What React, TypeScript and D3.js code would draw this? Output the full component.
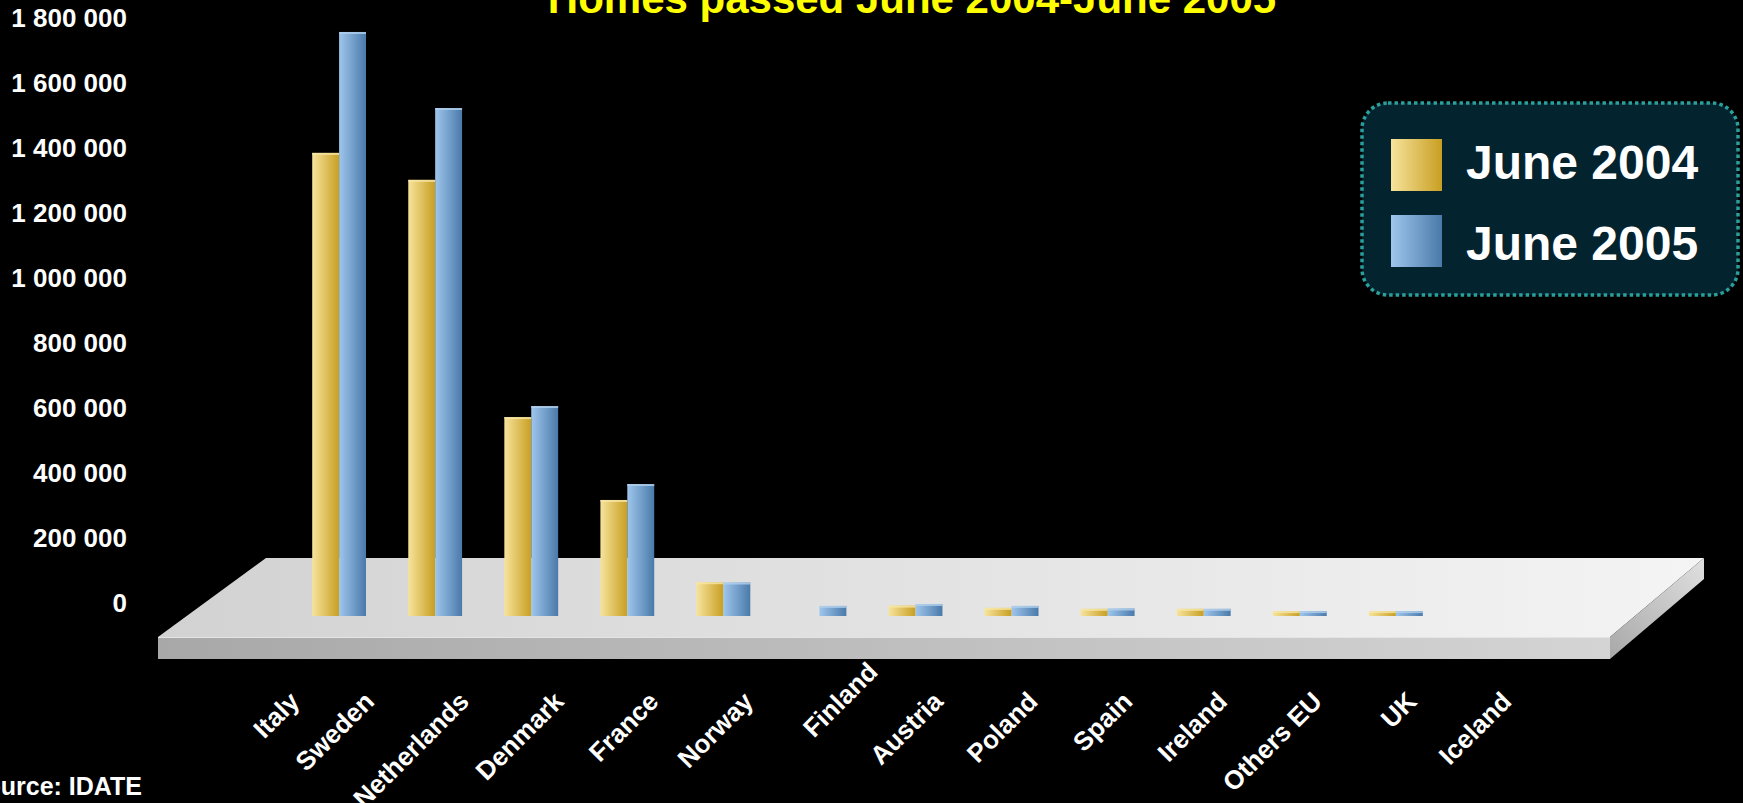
import React from 'react';
import * as d3 from 'd3';

// homes passed per country
const categories = ['Italy', 'Sweden', 'Netherlands', 'Denmark', 'France', 'Norway', 'Finland', 'Austria', 'Poland', 'Spain', 'Ireland', 'Others EU', 'UK', 'Iceland'];
const seriesNames = ['June 2004', 'June 2005'];
const june2004 = [0, 1425000, 1342000, 612000, 357000, 104000, 0, 32000, 25000, 22000, 22000, 15000, 15000, 0];
const june2005 = [0, 1797000, 1563000, 646000, 406000, 103000, 31000, 37000, 31000, 23000, 22000, 15000, 15000, 0];
const yTicks = [0, 200000, 400000, 600000, 800000, 1000000, 1200000, 1400000, 1600000, 1800000];

const W = 1743;
const H = 803;
const font = '"Liberation Sans", Arial, sans-serif';

const fmt = d3.formatLocale({ decimal: '.', thousands: ' ', grouping: [3], currency: ['', ''] }).format(',');

const App = () => {
    const baseY = 616;
    const y = d3.scaleLinear().domain([0, 1800000]).range([baseY, 31]);
    const x = d3.scaleBand().domain(categories).range([195, 1540]).paddingInner(0.44).paddingOuter(0.22);
    const sub = d3.scaleBand().domain(seriesNames).range([0, x.bandwidth()]);
    // labels sit on the front edge of the floor
    const labelX = d3.scalePoint().domain(categories).range([281, 1513]);

    const rows = categories.map((c, i) => ({ c, values: [june2004[i], june2005[i]] }));
    const fills = ['url(#gold)', 'url(#blue)'];
    const caps = ['#f8e7a6', '#b3d1ee'];

    return (
        <svg width={W} height={H} style={{ position: 'absolute', left: 0, top: 0, display: 'block', background: '#000' }}>
            <defs>
                <linearGradient id='gold' x1='0' x2='1' y1='0' y2='0'>
                    <stop offset='0' stopColor='#f7e39c' />
                    <stop offset='1' stopColor='#c89f22' />
                </linearGradient>
                <linearGradient id='blue' x1='0' x2='1' y1='0' y2='0'>
                    <stop offset='0' stopColor='#9fc6ec' />
                    <stop offset='1' stopColor='#4a7aaa' />
                </linearGradient>
                <linearGradient id='floorTop' x1='0' x2='1' y1='0' y2='0'>
                    <stop offset='0' stopColor='#d2d2d2' />
                    <stop offset='1' stopColor='#f4f4f4' />
                </linearGradient>
                <linearGradient id='floorFront' x1='0' x2='1' y1='0' y2='0'>
                    <stop offset='0' stopColor='#a8a8a8' />
                    <stop offset='1' stopColor='#d4d4d4' />
                </linearGradient>
                <linearGradient id='floorSide' x1='0' x2='1' y1='1' y2='0'>
                    <stop offset='0' stopColor='#a8a8a8' />
                    <stop offset='1' stopColor='#e0e0e0' />
                </linearGradient>
            </defs>
            <rect width={W} height={H} fill='#000' />

            <text x={912} y={13} textAnchor='middle' fontFamily={font} fontWeight='bold' fontSize={42} fill='#ffff00'>
                Homes passed June 2004-June 2005
            </text>

            {/* floor */}
            <polygon points='266,558 1704,558 1610,637 158,637' fill='url(#floorTop)' />
            <polygon points='158,637 1610,637 1610,659 158,659' fill='url(#floorFront)' />
            <polygon points='1610,637 1704,558 1704,579 1610,659' fill='url(#floorSide)' />
            <line x1={158} x2={1610} y1={637.5} y2={637.5} stroke='#e4e4e4' strokeWidth={1} />

            {/* value axis */}
            <g fontFamily={font} fontWeight='bold' fontSize={26} fill='#fff' textAnchor='end'>
                {yTicks.map(t => (
                    <text key={t} x={127} y={y(t) - 13} dominantBaseline='central'>{fmt(t)}</text>
                ))}
            </g>

            {/* bars */}
            {rows.map(r => (
                <g key={r.c} transform={`translate(${x(r.c)},0)`}>
                    {r.values.map((v, j) => v > 0 && (
                        <g key={j}>
                            <rect x={sub(seriesNames[j])} y={y(v)} width={sub.bandwidth()} height={baseY - y(v)} fill={fills[j]} />
                            <rect x={sub(seriesNames[j])} y={y(v)} width={sub.bandwidth()} height={Math.min(2, baseY - y(v))} fill={caps[j]} opacity={0.8} />
                        </g>
                    ))}
                </g>
            ))}

            {/* category labels (Italy and Finland were nudged in the original) */}
            <g fontFamily={font} fontWeight='bold' fontSize={26} fill='#fff' textAnchor='end'>
                {categories.map(c => {
                    const dx = c === 'Italy' ? 20 : 0;
                    return (
                        <text key={c} transform={`translate(${labelX(c) + dx},703) rotate(-45)`} x={c === 'Finland' ? 42 : 0}>{c}</text>
                    );
                })}
            </g>

            <text x={142} y={795} textAnchor='end' fontFamily={font} fontWeight='bold' fontSize={25} fill='#fff'>Source: IDATE</text>

            {/* legend */}
            <rect x={1362} y={103} width={376} height={192} rx={26} fill='#03232f' stroke='#2a9f9c' strokeWidth={3.5} strokeDasharray='3.5 3' />
            {seriesNames.map((s, j) => (
                <g key={s}>
                    <rect x={1391} y={139 + j * 76} width={51} height={52} fill={fills[j]} />
                    <text x={1466} y={179 + j * 81} fontFamily={font} fontWeight='bold' fontSize={48} fill='#fff'>{s}</text>
                </g>
            ))}
        </svg>
    );
};

export default App;
